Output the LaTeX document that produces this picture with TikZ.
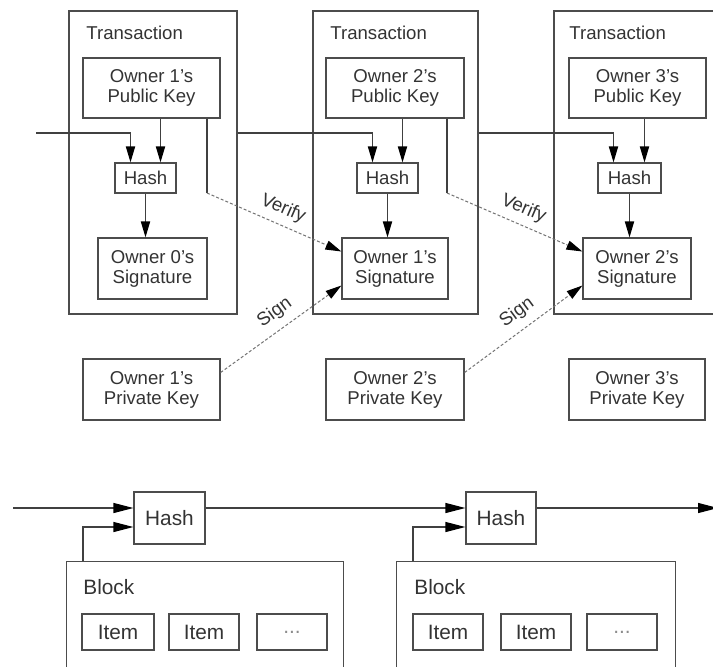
\documentclass[tikz,border=0pt]{standalone}
\usepackage{fontspec}
\setmainfont{Liberation Sans}
\usetikzlibrary{arrows.meta,calc}

\begin{document}
\begin{tikzpicture}[
		x=0.5pt, y=-0.5pt,
		font=\fontsize{9.3}{10}\selectfont,
		every node/.style={text=black!80},
		box/.style={draw=black!70, line width=0.6pt, inner sep=0pt, align=center},
		title/.style={anchor=west, inner sep=0pt},
		link/.style={draw=black!75, line width=0.6pt},
		arr/.style={link, -{Triangle[length=8pt, width=4.6pt, color=black]}},
		arrlong/.style={link, -{Triangle[length=10pt, width=5pt, color=black]}},
		sigline/.style={draw=black!55, line width=0.5pt, dash pattern=on 1.5pt off 1pt,
			-{Triangle[length=8pt, width=4.6pt, color=black]}},
	]
	\useasboundingbox (0, 0) rectangle (713, 666);
	\clip (0, 0) rectangle (713, 666);

	% transactions
	\node[box, minimum width=84pt, minimum height=151.5pt] (tx1) at (153, 162.5) {};
	\node[box, minimum width=82.5pt, minimum height=151.5pt] (tx2) at (395.5, 162.5) {};
	\node[box, minimum width=100pt, minimum height=151.5pt] (tx3) at (654, 162.5) {};
	\node[title] (tx1-title) at (86, 33) {Transaction};
	\node[title] (tx2-title) at (330, 33) {Transaction};
	\node[title] (tx3-title) at (569, 33) {Transaction};

	\node[box, minimum width=68.5pt, minimum height=30pt] (pk1) at (151.5, 88) {Owner 1's\\Public Key};
	\node[box, minimum width=69pt, minimum height=30pt] (pk2) at (395, 88) {Owner 2's\\Public Key};
	\node[box, minimum width=68.5pt, minimum height=30pt] (pk3) at (637.5, 88) {Owner 3's\\Public Key};

	\node[box, minimum width=30.5pt, minimum height=15pt] (h1) at (145.5, 178) {Hash};
	\node[box, minimum width=30.5pt, minimum height=15pt] (h2) at (387.5, 178) {Hash};
	\node[box, minimum width=31.5pt, minimum height=15pt] (h3) at (629.5, 178) {Hash};

	\node[box, minimum width=54.5pt, minimum height=30.5pt] (s1) at (152.5, 268.5) {Owner 0's\\Signature};
	\node[box, minimum width=53pt, minimum height=30.5pt] (s2) at (395, 268.5) {Owner 1's\\Signature};
	\node[box, minimum width=54pt, minimum height=30.5pt] (s3) at (637, 268.5) {Owner 2's\\Signature};

	\node[box, minimum width=68.5pt, minimum height=30.5pt] (k1) at (151.5, 389.5) {Owner 1's\\Private Key};
	\node[box, minimum width=69pt, minimum height=30.5pt] (k2) at (395, 389.5) {Owner 2's\\Private Key};
	\node[box, minimum width=68pt, minimum height=30.5pt] (k3) at (637, 389.5) {Owner 3's\\Private Key};

	% hash inputs: previous transaction and next owner's key
	\coordinate (in0) at (36, 133);
	\coordinate (h1a) at ($(h1.north)+(-15, 0)$);
	\coordinate (h1b) at ($(h1.north)+(15, 0)$);
	\coordinate (h2a) at ($(h2.north)+(-15, 0)$);
	\coordinate (h2b) at ($(h2.north)+(15, 0)$);
	\coordinate (h3a) at ($(h3.north)+(-16, 0)$);
	\coordinate (h3b) at ($(h3.north)+(15, 0)$);

	\draw[arr] (in0) -| (h1a);
	\draw[arr] (tx1.east |- in0) -| (h2a);
	\draw[arr] (tx2.east |- in0) -| (h3a);
	\draw[arr] (pk1.south -| h1b) -- (h1b);
	\draw[arr] (pk2.south -| h2b) -- (h2b);
	\draw[arr] (pk3.south -| h3b) -- (h3b);

	\draw[arr] (h1.south) -- (h1.south |- s1.north);
	\draw[arr] (h2.south) -- (h2.south |- s2.north);
	\draw[arr] (h3.south) -- (h3.south |- s3.north);

	% verify / sign
	\coordinate (v1) at (207, 193);
	\coordinate (v2) at (447, 193);
	\draw[link] (pk1.south -| v1) -- (v1);
	\draw[link] (pk2.south -| v2) -- (v2);
	\draw[sigline] (v1) -- ($(s2.west)+(0, -17)$) node[pos=0.52, sloped, above=0pt] {Verify};
	\draw[sigline] (v2) -- ($(s3.west)+(0, -17)$) node[pos=0.52, sloped, above=0pt] {Verify};
	\draw[sigline] ($(k1.east)+(0, -17)$) -- ($(s2.west)+(0, 17)$) node[pos=0.53, sloped, above=0.5pt] {Sign};
	\draw[sigline] ($(k2.east)+(0, -17)$) -- ($(s3.west)+(0, 17)$) node[pos=0.53, sloped, above=0.5pt] {Sign};

	% block chain
	\begin{scope}[font=\fontsize{10.4}{12}\selectfont]
		\node[box, minimum width=35.5pt, minimum height=26pt] (bh1) at (169.5, 518) {Hash};
		\node[box, minimum width=35pt, minimum height=26pt] (bh2) at (501, 518) {Hash};

		\node[box, anchor=north west, minimum width=138.5pt, minimum height=60pt] (b1) at (66, 561) {};
		\node[box, anchor=north west, minimum width=139.5pt, minimum height=60pt] (b2) at (396, 561) {};
		\node[title] (b1-title) at (83, 587) {Block};
		\node[title] (b2-title) at (414, 587) {Block};

		\node[box, minimum width=36pt, minimum height=18pt] (b1i1) at (118, 632) {Item};
		\node[box, minimum width=35pt, minimum height=18pt] (b1i2) at (204, 632) {Item};
		\node[box, minimum width=35pt, minimum height=18pt, text=black!45] (b1i3) at (292, 632) {...};
		\node[box, minimum width=35pt, minimum height=18pt] (b2i1) at (448, 632) {Item};
		\node[box, minimum width=35pt, minimum height=18pt] (b2i2) at (536, 632) {Item};
		\node[box, minimum width=35pt, minimum height=18pt, text=black!45] (b2i3) at (622, 632) {...};
	\end{scope}

	\coordinate (c0) at (13, 508);
	\coordinate (c1) at (718, 508);
	\coordinate (b1up) at ($(b1.north west)+(17, 0)$);
	\coordinate (b2up) at ($(b2.north west)+(17, 0)$);

	\draw[arrlong] (c0) -- (c0 -| bh1.west);
	\draw[arrlong] (b1up) |- ($(bh1.west)+(0, 9)$);
	\draw[arrlong] ($(bh1.east)+(0, -10)$) -- ($(bh2.west)+(0, -10)$);
	\draw[arrlong] (b2up) |- ($(bh2.west)+(0, 9)$);
	\draw[arrlong] ($(bh2.east)+(0, -10)$) -- (c1);
\end{tikzpicture}
\end{document}
